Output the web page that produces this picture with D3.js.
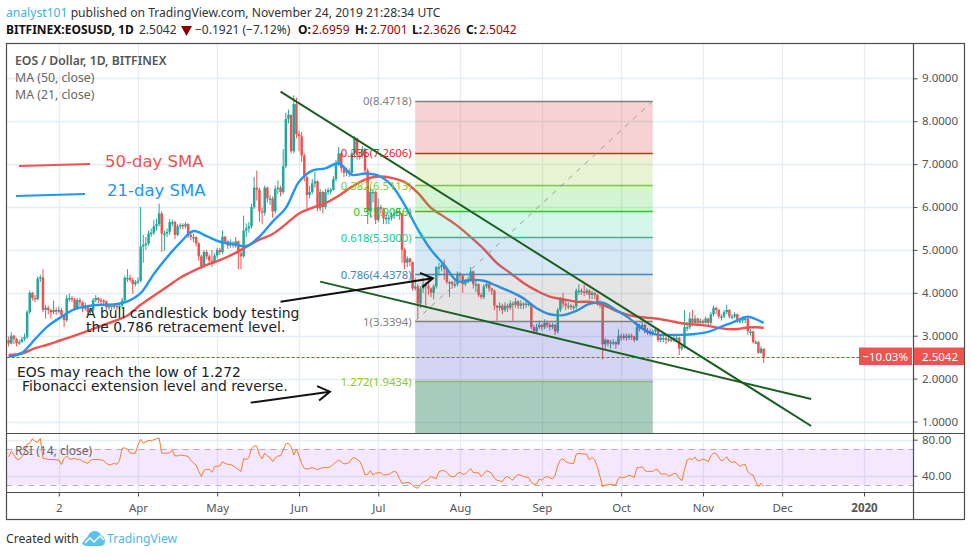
<!DOCTYPE html>
<html>
<head>
<meta charset="utf-8">
<script src="https://cdn.jsdelivr.net/npm/d3@7"></script>
<style>
  body { margin: 0; background: #fff; }
  text { font-family: "Noto Sans", sans-serif; }
  .axis path { display: none; }
  .axis line { stroke: #4a4a4a; }
  .axis text { font-size: 11.5px; fill: #555; font-family: "Noto Sans", sans-serif; }
  .note { font-family: "DejaVu Sans", sans-serif; font-size: 13.9px; fill: #222; }
</style>
</head>
<body>
<div id="chart"></div>
<script>
// daily candles, first one is Feb 11 2019, open = previous close
var firstDay = Date.UTC(2019, 1, 11);
var firstOpen = 2.90;

var closes = [
  2.82,3.00,2.92,2.82,2.85,2.92,2.97,3.55,4.00,3.88,
  3.85,4.33,4.36,3.60,3.65,3.60,3.55,3.60,3.56,3.60,
  3.48,3.36,3.87,3.88,3.85,3.64,3.83,3.78,3.63,3.70,
  3.55,3.60,3.83,3.88,3.83,3.82,3.80,3.66,3.70,3.68,
  3.70,3.68,3.70,3.82,4.35,4.35,4.30,4.20,4.25,4.28,
  5.08,5.12,5.15,5.38,5.40,5.55,5.60,5.85,5.38,5.38,
  5.42,5.65,5.65,5.35,5.55,5.58,5.55,5.60,5.35,5.30,
  5.30,5.15,4.85,4.62,4.95,4.85,4.75,4.72,4.87,5.00,
  4.95,5.31,5.20,5.10,5.15,5.10,5.20,4.92,4.85,5.45,
  5.50,5.55,6.00,6.45,6.40,5.90,5.87,6.45,6.20,6.20,
  5.90,6.42,6.45,6.35,6.95,8.05,8.15,7.30,8.40,7.70,
  7.65,7.20,6.70,6.28,6.35,6.55,6.60,5.97,6.35,6.00,
  6.35,6.40,6.40,6.65,7.00,7.25,6.90,6.80,6.85,6.80,
  7.25,7.60,7.20,7.20,7.35,6.85,5.90,6.35,6.35,5.70,
  6.00,5.95,5.73,5.75,5.75,5.80,5.85,5.90,5.85,5.00,
  4.70,4.80,4.72,4.10,4.15,3.75,4.10,4.20,4.15,4.10,
  4.00,4.15,4.60,4.60,4.65,4.55,4.25,4.25,4.20,4.20,
  4.45,4.40,4.20,4.25,4.30,4.50,4.20,4.20,3.95,3.90,
  4.15,4.20,4.10,4.05,3.70,3.65,3.70,3.60,3.70,3.65,
  3.75,3.72,3.80,3.70,3.75,3.72,3.75,3.75,3.20,3.10,
  3.20,3.25,3.20,3.30,3.25,3.20,3.25,3.10,3.60,3.85,
  3.75,3.70,3.70,3.68,3.68,4.05,4.05,4.03,4.00,4.05,
  3.95,4.00,3.95,3.75,3.75,2.80,2.90,2.82,2.85,2.85,
  2.80,3.00,2.95,3.00,2.95,3.00,2.98,2.90,3.20,3.20,
  3.25,3.10,3.10,3.05,3.10,3.15,2.90,2.95,2.95,2.90,
  2.92,2.90,2.95,2.95,2.70,2.75,3.20,3.20,3.40,3.30,
  3.40,3.30,3.35,3.30,3.40,3.30,3.50,3.65,3.60,3.45,
  3.45,3.55,3.60,3.45,3.45,3.50,3.35,3.35,3.40,3.40,
  3.10,3.10,2.85,2.85,2.60,2.6959,2.5042
];

var highs = [
  2.98,3.08,3.02,2.95,2.90,2.97,3.05,3.60,4.05,4.02,
  3.95,4.38,4.42,4.55,3.72,3.70,3.62,3.82,3.66,3.68,
  3.65,3.50,3.95,3.98,3.92,3.88,3.88,3.88,3.80,3.78,
  3.72,3.65,3.88,3.95,3.90,3.88,3.85,3.82,3.75,3.75,
  3.76,3.74,3.75,3.88,4.40,4.55,4.42,4.35,4.30,4.36,
  6.00,5.35,5.30,5.45,5.50,5.70,5.72,6.08,5.90,5.45,
  5.50,5.72,5.70,5.68,5.60,5.62,5.62,5.65,5.62,5.40,
  5.38,5.32,5.18,4.88,5.00,5.00,4.90,5.00,4.92,5.05,
  5.05,5.45,5.32,5.22,5.25,5.20,5.30,5.22,5.00,5.80,
  5.62,5.65,6.08,6.70,6.85,6.45,5.98,6.50,6.48,6.28,
  6.25,6.50,6.62,6.50,7.35,8.20,8.27,8.15,8.60,8.55,
  7.78,7.75,7.25,6.72,6.50,6.65,6.82,6.62,6.42,6.38,
  6.42,6.45,6.45,6.72,7.10,7.40,7.28,6.98,6.92,6.90,
  7.30,7.65,7.62,7.28,7.42,7.38,6.90,6.45,6.42,6.38,
  6.20,6.05,5.98,5.85,5.82,5.88,5.92,5.95,5.95,5.85,
  5.05,4.85,4.82,4.72,4.35,4.20,4.15,4.35,4.25,4.40,
  4.12,4.20,4.62,4.70,4.72,4.78,4.58,4.28,4.28,4.28,
  4.50,4.48,4.42,4.32,4.38,4.60,4.52,4.28,4.22,4.00,
  4.20,4.28,4.22,4.12,4.08,3.72,3.78,3.75,3.78,3.75,
  3.82,3.80,3.88,3.82,3.82,3.78,3.80,3.80,3.75,3.25,
  3.28,3.35,3.28,3.38,3.35,3.30,3.30,3.28,3.65,3.90,
  4.00,3.80,3.78,3.75,3.72,4.10,4.20,4.10,4.20,4.10,
  4.08,4.05,4.02,3.98,3.82,3.78,2.95,2.92,2.90,2.92,
  2.88,3.15,3.05,3.05,3.05,3.05,3.05,3.00,3.25,3.28,
  3.32,3.28,3.18,3.15,3.15,3.20,3.18,3.00,3.02,3.00,
  2.98,2.96,3.00,3.02,2.98,2.80,3.60,3.32,3.55,3.60,
  3.48,3.42,3.40,3.38,3.45,3.42,3.55,3.70,3.68,3.62,
  3.50,3.60,3.72,3.62,3.50,3.55,3.52,3.40,3.45,3.45,
  3.42,3.15,3.12,2.90,2.88,2.75,2.7001
];

var lows = [
  2.75,2.80,2.80,2.75,2.78,2.84,2.88,2.92,3.50,3.82,
  3.78,3.82,4.25,3.55,3.40,3.50,3.40,3.50,3.48,3.52,
  3.40,3.20,3.32,3.80,3.78,3.58,3.60,3.70,3.55,3.58,
  3.48,3.50,3.55,3.78,3.76,3.75,3.72,3.60,3.60,3.58,
  3.62,3.60,3.62,3.62,3.78,4.25,4.25,3.98,4.15,4.20,
  4.25,4.70,5.00,5.10,5.30,5.35,5.45,5.55,4.95,4.98,
  5.30,5.35,5.55,5.25,5.32,5.48,5.48,5.50,5.28,5.22,
  5.18,5.08,4.75,4.55,4.57,4.78,4.65,4.60,4.68,4.80,
  4.88,4.90,5.12,5.02,5.05,5.05,5.05,4.55,4.55,4.82,
  5.30,5.40,5.50,5.95,6.15,5.65,5.60,5.80,6.10,6.05,
  5.75,5.85,6.30,6.25,6.30,6.90,7.95,7.25,7.25,7.60,
  7.30,7.05,6.60,5.95,6.20,6.30,6.45,5.90,5.90,5.85,
  5.95,6.28,6.30,6.38,6.60,6.95,6.80,6.70,6.72,6.70,
  6.75,7.15,7.10,7.10,7.15,6.80,5.60,5.75,6.10,5.60,
  5.65,5.85,5.60,5.60,5.60,5.68,5.72,5.78,5.70,4.70,
  4.55,4.60,4.62,4.05,4.05,3.40,3.65,4.00,3.70,3.95,
  3.90,3.85,4.10,4.40,4.50,4.30,4.20,3.90,4.10,4.12,
  4.15,4.30,4.00,4.15,4.22,4.25,4.10,4.02,3.90,3.85,
  3.85,4.10,4.02,3.95,3.60,3.35,3.58,3.50,3.55,3.55,
  3.60,3.35,3.65,3.62,3.62,3.62,3.65,3.68,3.15,3.05,
  3.05,3.15,3.12,3.15,3.18,3.12,3.15,3.02,3.05,3.55,
  3.65,3.60,3.62,3.60,3.60,3.62,3.95,3.95,3.92,3.95,
  3.85,3.85,3.85,3.70,3.65,2.45,2.70,2.75,2.70,2.78,
  2.70,2.78,2.88,2.90,2.88,2.90,2.90,2.85,2.88,3.10,
  3.15,3.05,3.02,3.00,3.00,3.05,2.85,2.85,2.85,2.80,
  2.85,2.85,2.85,2.88,2.55,2.65,2.70,3.10,3.15,3.22,
  3.25,3.22,3.25,3.22,3.28,3.25,3.25,3.45,3.50,3.40,
  3.35,3.40,3.50,3.40,3.38,3.40,3.30,3.28,3.30,3.30,
  3.02,3.00,2.82,2.80,2.58,2.58,2.3626
];

var rsi = [
  61,67,63,58.5,58,61,65,75,76,81,
  78,77,81.5,59,59,58,58,58,57.5,57.5,
  52.5,59,62,58.5,58.5,59,58,58.5,55.6,55,
  53.7,57,58,58,58,57.5,56.7,53.7,52,52.6,
  53.7,52.6,57,70.4,71,69.6,65,65,65,74,
  80.4,76,78,79,79,80,81,82,65,65,
  65,65.5,68,62,62,63,62.6,62,61.5,57,
  54,52,45,39,46,47,47,43.7,50,50.7,
  50.7,55.6,53.7,52.6,52.6,51,49,47,44.4,59,
  58,60,70.4,73,73,63,59,65,62,60,
  55.6,60,62,62,68.5,75.5,76,72,63,69.6,
  62,53.7,48,47.4,48,49,48,46.7,48,49,
  49,49,50,53,55,57.4,55.6,53,53.7,54.4,
  59,60,58,56,50,40.7,41.5,45.6,40.7,42.6,
  43.3,43.3,40.7,41,41.5,43.3,44.8,43.7,37,31.5,
  32,32.6,32,29,27,26,30,33,34,36.3,
  39,37.8,37,44.4,45.6,45.6,43.7,40,39,39,
  42.6,43.7,41.5,42,45,48,43.3,43.3,43.3,39,
  41.9,45.6,44.4,42.6,37,35,34.4,33.3,37.8,39,
  37,35,39,41.5,40.7,39,38.5,37.8,32.6,30.4,
  30.7,36.3,35,38,39,37.8,36.3,40.7,51,57.4,
  59,55.6,54.4,53.7,53.7,64,64.8,64.4,64,63.7,
  57.4,60.4,57.4,50,39,27.8,29.6,30,30.4,29.6,
  30,37,38.5,37.8,39,40.4,39.6,38,49,49,
  50,45.6,44.8,44.8,44.8,47,46.3,42,42,42,
  39.6,40.7,42.6,42,37,34.4,46.3,57.4,59,58,
  60.7,56.3,57,58.5,57.4,55.6,62,65,64.8,60,
  56.3,58,61,56.3,54.8,55.6,53,50.4,52,52.6,
  44.4,41.5,40.7,33.3,28,31.5,27.8
];

// moving averages read every 5 days
var maDays = [0,5,10,15,20,25,30,35,40,45,50,55,60,65,70,75,80,85,90,95,100,105,110,115,120,125,130,135,140,145,
  150,155,160,165,170,175,180,185,190,195,200,205,210,215,220,225,230,235,240,245,250,255,260,265,270,275,280,285,286];
var ma50 = [2.55,2.585,2.71,2.795,2.90,3.00,3.11,3.23,3.34,3.47,3.72,3.93,4.14,4.35,4.51,4.65,4.76,4.90,5.07,5.24,5.37,5.60,5.85,5.98,6.09,6.26,6.47,6.64,6.71,6.68,
  6.58,6.33,5.98,5.77,5.56,5.30,5.02,4.69,4.46,4.23,4.05,3.91,3.85,3.79,3.79,3.72,3.58,3.48,3.43,3.40,3.35,3.29,3.26,3.23,3.17,3.15,3.19,3.19,3.18];
var ma21 = [2.51,2.60,2.92,3.23,3.44,3.62,3.69,3.72,3.73,3.80,3.99,4.44,4.83,5.17,5.44,5.32,5.19,5.14,5.09,5.31,5.66,5.98,6.59,6.85,6.90,7.02,6.75,6.78,6.73,6.51,
  6.05,5.48,5.00,4.65,4.27,4.30,4.28,4.16,4.03,3.87,3.64,3.50,3.48,3.58,3.74,3.77,3.60,3.41,3.17,3.03,3.02,3.02,3.04,3.09,3.21,3.33,3.44,3.33,3.30];

// fibonacci tool
var fibLevels = ["0","0.236","0.382","0.5","0.618","0.786","1","1.272"];
var fibPrices = [8.4718,7.2606,6.5113,5.9056,5.3000,4.4378,3.3394,1.9434];
var fibColors = ["#808080","#d9281e","#84cc16","#22c91e","#12cc8c","#3a88bd","#808080","#8fc81a"];
var fibFills = ["rgba(215,50,50,.22)","rgba(140,200,40,.2)","rgba(40,200,40,.2)","rgba(20,205,140,.18)","rgba(50,140,200,.2)","rgba(110,110,110,.18)","rgba(60,60,200,.22)","rgba(20,120,80,.37)"];
var fibDays = [154, 244];
var fibBottom = 0.72;

var trendDays = [[103, 304], [118, 304]];
var trendPrices = [[8.69, 0.895], [4.26, 1.525]];
var arrowDays = [[103, 160.7], [91.7, 121.7]];
var arrowPrices = [[3.79, 4.34], [1.44, 1.695]];

var priceTicks = [1,2,3,4,5,6,7,8,9];
var rsiTicks = [80, 40];
var timeTicks = [Date.UTC(2019,2,2),Date.UTC(2019,3,1),Date.UTC(2019,4,1),Date.UTC(2019,5,1),Date.UTC(2019,6,1),Date.UTC(2019,7,1),Date.UTC(2019,8,1),Date.UTC(2019,9,1),Date.UTC(2019,10,1),Date.UTC(2019,11,1),Date.UTC(2020,0,1)];
var timeLabels = ["2","Apr","May","Jun","Jul","Aug","Sep","Oct","Nov","Dec","2020"];

var upColor = "#26a69a";
var downColor = "#ef5350";
var gridColor = "#e4edf3";
var frameColor = "#4d4d4d";

var svgWidth = 971;
var svgHeight = 556;
var left = 6.5, right = 913.5, outerRight = 964.5;
var mainTop = 43.5, mainBottom = 433.5, rsiBottom = 492.5, timeBottom = 519.5;

var svg = d3.select("#chart")
  .append("svg")
  .attr("width", svgWidth)
  .attr("height", svgHeight)
  .style("display", "block");

var x = d3.scaleUtc()
  .domain([Date.UTC(2019,3,1), Date.UTC(2020,0,1)])
  .range([138, 864]);
var y = d3.scaleLinear().domain([1, 9]).range([421.5, 78.3]);
var yRsi = d3.scaleLinear().domain([40, 80]).range([475.7, 439.7]);

function dayX(d) { return x(firstDay + d * 864e5); }

svg.append("defs").append("clipPath").attr("id", "mainClip")
  .append("rect").attr("x", left).attr("y", mainTop).attr("width", right - left).attr("height", mainBottom - mainTop);
svg.select("defs").append("clipPath").attr("id", "rsiClip")
  .append("rect").attr("x", left).attr("y", mainBottom).attr("width", right - left).attr("height", rsiBottom - mainBottom);

// grid
var grid = svg.append("g").attr("stroke", gridColor).attr("stroke-width", 1.3);
grid.selectAll(".vg").data(timeTicks).enter().append("line")
  .attr("x1", d => Math.round(x(d)) + 0.5).attr("x2", d => Math.round(x(d)) + 0.5)
  .attr("y1", mainTop).attr("y2", rsiBottom);
grid.selectAll(".hg").data(priceTicks).enter().append("line")
  .attr("x1", left).attr("x2", right)
  .attr("y1", d => Math.round(y(d)) + 0.5).attr("y2", d => Math.round(y(d)) + 0.5);
grid.selectAll(".rg").data(rsiTicks).enter().append("line")
  .attr("x1", left).attr("x2", right)
  .attr("y1", d => Math.round(yRsi(d)) + 0.5).attr("y2", d => Math.round(yRsi(d)) + 0.5);

// candles
var main = svg.append("g").attr("clip-path", "url(#mainClip)");
var candles = main.selectAll(".candle").data(closes).enter().append("g").attr("class", "candle");
function openOf(i) { return i === 0 ? firstOpen : closes[i - 1]; }
function candleColor(i) { return closes[i] >= openOf(i) ? upColor : downColor; }
candles.append("line")
  .attr("x1", (d, i) => dayX(i)).attr("x2", (d, i) => dayX(i))
  .attr("y1", (d, i) => y(highs[i])).attr("y2", (d, i) => y(lows[i]))
  .attr("stroke", (d, i) => candleColor(i));
candles.append("rect")
  .attr("x", (d, i) => dayX(i) - 1.25)
  .attr("width", 2.5)
  .attr("y", (d, i) => y(Math.max(d, openOf(i))))
  .attr("height", (d, i) => Math.max(1.5, Math.abs(y(d) - y(openOf(i)))))
  .attr("fill", (d, i) => candleColor(i));

// moving averages
var maLine = d3.line().x((d, i) => dayX(maDays[i])).y(d => y(d)).curve(d3.curveCatmullRom);
main.append("path").attr("d", maLine(ma50)).attr("fill", "none").attr("stroke", "#ef5350").attr("stroke-width", 2.4);
main.append("path").attr("d", maLine(ma21)).attr("fill", "none").attr("stroke", "#2196f3").attr("stroke-width", 2.4);

// fib bands sit on top of the candles
var fibX0 = dayX(fibDays[0]), fibX1 = dayX(fibDays[1]);
var bandEdges = fibPrices.concat([fibBottom]);
main.selectAll(".band").data(fibFills).enter().append("rect")
  .attr("x", fibX0).attr("width", fibX1 - fibX0)
  .attr("y", (d, i) => y(bandEdges[i]))
  .attr("height", (d, i) => y(bandEdges[i + 1]) - y(bandEdges[i]))
  .attr("fill", d => d);
main.selectAll(".fibline").data(fibPrices).enter().append("line")
  .attr("x1", fibX0).attr("x2", fibX1)
  .attr("y1", d => Math.round(y(d)) + 0.5).attr("y2", d => Math.round(y(d)) + 0.5)
  .attr("stroke", (d, i) => fibColors[i]).attr("stroke-width", 1.4);
main.append("line")
  .attr("x1", fibX0).attr("y1", y(fibPrices[6]))
  .attr("x2", fibX1).attr("y2", y(fibPrices[0]))
  .attr("stroke", "#999").attr("stroke-dasharray", "5,6");
svg.selectAll(".fiblabel").data(fibLevels).enter().append("text")
  .attr("x", fibX0 - 3.5)
  .attr("y", (d, i) => y(fibPrices[i]) + 4.5)
  .attr("text-anchor", "end")
  .attr("font-size", 11.3)
  .attr("fill", (d, i) => fibColors[i])
  .text((d, i) => d + "(" + fibPrices[i].toFixed(4) + ")");

// last price line
main.append("line")
  .attr("x1", left).attr("x2", 859)
  .attr("y1", Math.round(y(2.5042)) + 0.5).attr("y2", Math.round(y(2.5042)) + 0.5)
  .attr("stroke", "#ff2b2b").attr("stroke-width", 1.2).attr("stroke-dasharray", "3,2");

// trend lines
trendDays.forEach(function(days, k) {
  main.append("line")
    .attr("x1", dayX(days[0])).attr("y1", y(trendPrices[k][0]))
    .attr("x2", dayX(days[1])).attr("y2", y(trendPrices[k][1]))
    .attr("stroke", "#1b5e20").attr("stroke-width", 2);
});

// arrows
arrowDays.forEach(function(days, k) {
  var x0 = dayX(days[0]), y0 = y(arrowPrices[k][0]), x1 = dayX(days[1]), y1 = y(arrowPrices[k][1]);
  var a = Math.atan2(y1 - y0, x1 - x0);
  var head = [[x1 - 14 * Math.cos(a - 0.55), y1 - 14 * Math.sin(a - 0.55)], [x1, y1], [x1 - 14 * Math.cos(a + 0.55), y1 - 14 * Math.sin(a + 0.55)]];
  svg.append("line").attr("x1", x0).attr("y1", y0).attr("x2", x1).attr("y2", y1)
    .attr("stroke", "#111").attr("stroke-width", 2);
  svg.append("path").attr("d", d3.line()(head)).attr("fill", "none")
    .attr("stroke", "#111").attr("stroke-width", 2);
});

// rsi pane
var rsiPane = svg.append("g").attr("clip-path", "url(#rsiClip)");
rsiPane.append("rect")
  .attr("x", left).attr("width", right - left)
  .attr("y", yRsi(70)).attr("height", yRsi(30) - yRsi(70))
  .attr("fill", "rgba(150,50,255,.11)");
[70, 30].forEach(function(v) {
  rsiPane.append("line").attr("x1", left).attr("x2", right)
    .attr("y1", Math.round(yRsi(v)) + 0.5).attr("y2", Math.round(yRsi(v)) + 0.5)
    .attr("stroke", "#bbaabb").attr("stroke-dasharray", "6,5");
});
var rsiLine = d3.line().x((d, i) => dayX(i)).y(d => yRsi(d));
rsiPane.append("path").attr("d", rsiLine(rsi)).attr("fill", "none").attr("stroke", "#f57c1f").attr("stroke-width", 1);

// frame
var frame = svg.append("g").attr("stroke", frameColor).attr("stroke-width", 1.2);
frame.append("rect").attr("x", left).attr("y", mainTop).attr("width", outerRight - left).attr("height", timeBottom - mainTop).attr("fill", "none");
frame.append("line").attr("x1", right).attr("x2", right).attr("y1", mainTop).attr("y2", timeBottom);
frame.append("line").attr("x1", left).attr("x2", outerRight).attr("y1", mainBottom).attr("y2", mainBottom);
frame.append("line").attr("x1", left).attr("x2", outerRight).attr("y1", rsiBottom).attr("y2", rsiBottom);

// axes
svg.append("g").attr("class", "axis").attr("transform", "translate(" + right + ",0)")
  .call(d3.axisRight(y).tickValues(priceTicks).tickSize(4).tickPadding(4.5).tickFormat(d3.format(".4f")));
svg.append("g").attr("class", "axis").attr("transform", "translate(" + right + ",0)")
  .call(d3.axisRight(yRsi).tickValues(rsiTicks).tickSize(4).tickPadding(4.5).tickFormat(d3.format(".2f")));
var timeAxis = svg.append("g").attr("class", "axis").attr("transform", "translate(0," + rsiBottom + ")")
  .call(d3.axisBottom(x).tickValues(timeTicks).tickSize(4).tickPadding(7).tickFormat((d, i) => timeLabels[i]));
timeAxis.selectAll("text").filter((d, i) => timeLabels[i] === "2020").style("font-weight", "700");

// last price tags
svg.append("rect").attr("x", 859).attr("y", 347.5).attr("width", 53).attr("height", 17.5).attr("fill", "#ef5350");
svg.append("rect").attr("x", 914).attr("y", 347.5).attr("width", 50).attr("height", 17.5).attr("fill", "#ef5350");
svg.append("text").attr("x", 908).attr("y", 360.5).attr("text-anchor", "end").attr("font-size", 11.5).attr("fill", "#fff").text("\u221210.03%");
svg.append("text").attr("x", 922).attr("y", 360.5).attr("font-size", 11.5).attr("fill", "#fff").text("2.5042");

// legend
svg.append("text").attr("x", 15).attr("y", 65).attr("font-size", 12.2).attr("font-weight", 600).attr("fill", "#555").text("EOS / Dollar, 1D, BITFINEX");
svg.append("text").attr("x", 15).attr("y", 82).attr("font-size", 12.3).attr("fill", "#666").text("MA (50, close)");
svg.append("text").attr("x", 15).attr("y", 99).attr("font-size", 12.3).attr("fill", "#666").text("MA (21, close)");
svg.append("text").attr("x", 15).attr("y", 455).attr("font-size", 12).attr("fill", "#666").text("RSI (14, close)");

// hand drawn labels on the chart
svg.append("line").attr("x1", 19).attr("y1", 166).attr("x2", 90).attr("y2", 164).attr("stroke", "#ef5350").attr("stroke-width", 2);
svg.append("line").attr("x1", 16).attr("y1", 196).attr("x2", 85).attr("y2", 194).attr("stroke", "#2196f3").attr("stroke-width", 2);
svg.append("text").attr("x", 105).attr("y", 167).attr("font-size", 16.5).style("font-family", "DejaVu Sans").attr("fill", "#ef5350").text("50-day SMA");
svg.append("text").attr("x", 107).attr("y", 196).attr("font-size", 16.5).style("font-family", "DejaVu Sans").attr("fill", "#2196f3").text("21-day SMA");

var notes = [["A bull candlestick body testing", 86, 318], ["the 0.786 retracement level.", 86, 332], ["EOS may reach the low of 1.272", 17, 377], ["Fibonacci extension level and reverse.", 22, 391]];
svg.selectAll(".note").data(notes).enter().append("text").attr("class", "note")
  .attr("x", d => d[1]).attr("y", d => d[2]).text(d => d[0]);

// header
var line1 = svg.append("text").attr("x", 6).attr("y", 17).attr("font-size", 12.15).attr("fill", "#333");
line1.append("tspan").attr("fill", "#3bb3e4").text("analyst101");
line1.append("tspan").text(" published on TradingView.com, November 24, 2019 21:28:34 UTC");

var headerParts = [
  ["BITFINEX:EOSUSD, 1D", 6, "#111", 700],
  ["2.5042", 139, "#333", 400],
  ["\u22120.1921 (\u22127.12%)", 195, "#333", 400],
  ["O:", 298, "#111", 700], ["2.6959", 312, "#a00000", 400],
  ["H:", 355, "#111", 700], ["2.7001", 370, "#a00000", 400],
  ["L:", 412, "#111", 700], ["2.3626", 423, "#a00000", 400],
  ["C:", 466, "#111", 700], ["2.5042", 479, "#a00000", 400]
];
svg.selectAll(".hdr").data(headerParts).enter().append("text")
  .attr("x", d => d[1]).attr("y", 34).attr("font-size", 12)
  .attr("fill", d => d[2]).attr("font-weight", d => d[3]).text(d => d[0]);
svg.append("path").attr("d", d3.line()([[181, 26], [192, 26], [186.5, 36]])).attr("fill", "#8b0000");

// footer
svg.append("text").attr("x", 6).attr("y", 543).attr("font-size", 12.2).attr("fill", "#333").text("Created with");
svg.append("path")
  .attr("d", "M82 543 L88 536 Q90 531 95 531 Q99 531 101 535 Q105 537 105 541 Q105 546 100 546 L87 546 Q83 546 82 543 Z")
  .attr("fill", "#5bc0ea");
svg.append("path").attr("d", "M85 543 L90 538 L94 542 L100 536 L104 540").attr("fill", "none").attr("stroke", "#fff").attr("stroke-width", 1.5);
svg.append("text").attr("x", 107).attr("y", 543).attr("font-size", 12.2).attr("fill", "#4db8e8").text("TradingView");
</script>
</body>
</html>
